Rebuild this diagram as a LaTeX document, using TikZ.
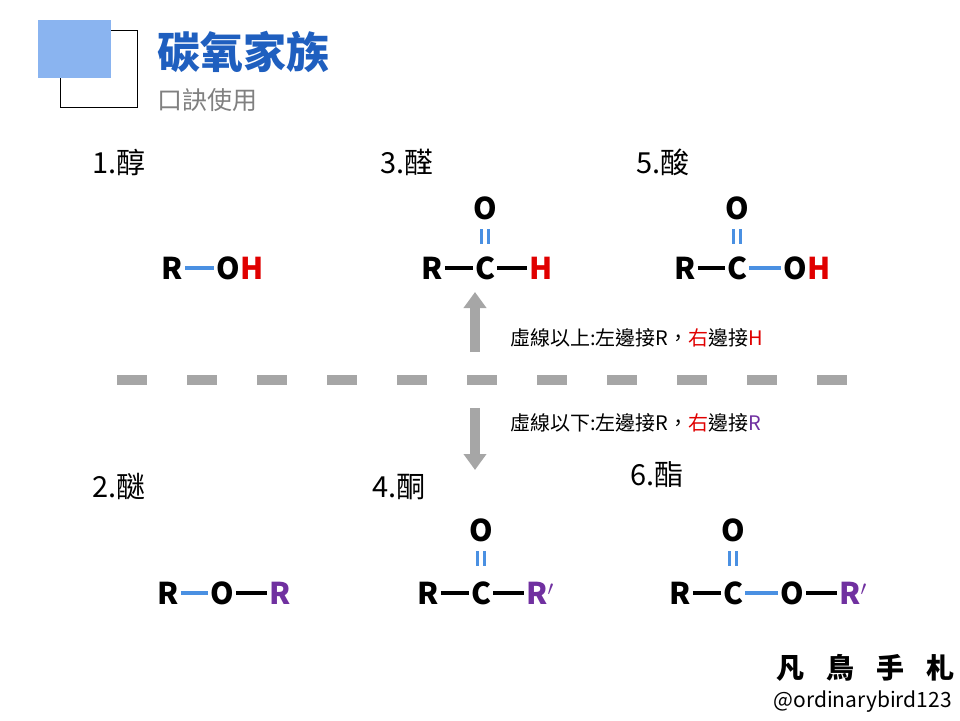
\documentclass[tikz,border=0pt]{standalone}
\usepackage{fontspec}
\setmainfont{Noto Sans CJK TC}
\usetikzlibrary{arrows.meta, calc}
\definecolor{bondblue}{HTML}{4A90E2}
\definecolor{titleblue}{HTML}{1F5FBF}
\definecolor{boxblue}{HTML}{8AB4F0}
\definecolor{rpurple}{HTML}{7030A0}
\definecolor{hred}{HTML}{E00000}
\tikzset{
  atom/.style={inner sep=0pt, font=\fontsize{30}{30}\selectfont\bfseries},
  label/.style={anchor=west, inner sep=0pt, font=\fontsize{29}{29}\selectfont},
  note/.style={anchor=west, inner sep=0pt, font=\fontsize{20}{20}\selectfont},
  bond/.style={line width=3.5pt, shorten <=2pt, shorten >=2pt},
  dbond/.style={bondblue, line width=2.5pt},
  bigarrow/.style={gray!70, line width=10pt, -{Triangle[width=22pt,length=16pt]}}
}
\newcommand{\dbl}[1]{% short double bond under the O
  \draw[dbond] ($(#1)+(-3.5,21)$) -- ($(#1)+(-3.5,36)$);
  \draw[dbond] ($(#1)+(3.5,21)$) -- ($(#1)+(3.5,36)$);}
\begin{document}
\begin{tikzpicture}[x=1pt,y=-1pt]
  \useasboundingbox (0,0) rectangle (960,720);
  % Header
  \draw[line width=1pt] (60,30) rectangle (137,107);
  \fill[boxblue] (38,20) rectangle (111,78);
  \node[anchor=west, inner sep=0pt, text=titleblue, font=\fontsize{43}{43}\selectfont\bfseries] (title) at (157,52) {碳氧家族};
  \node[anchor=west, inner sep=0pt, text=gray, font=\fontsize{25}{25}\selectfont] (subtitle) at (157,100) {口訣使用};

  % 1. alcohol
  \node[label] (l1) at (92,162) {1.醇};
  \node[atom] (r1) at (172,268) {R};
  \node[atom] (o1) at (228,268) {O};
  \node[atom, text=hred, anchor=west] (h1) at (o1.east) {H};
  \draw[bond, bondblue] (r1.east) -- (o1.west);

  % 3. aldehyde
  \node[label] (l3) at (380,162) {3.醛};
  \node[atom] (r3) at (432,268) {R};
  \node[atom] (c3) at (485,268) {C};
  \node[atom, text=hred] (h3) at (541,268) {H};
  \node[atom] (o3) at (485,208) {O};
  \draw[bond] (r3.east) -- (c3.west);
  \draw[bond] (c3.east) -- (h3.west);
  \dbl{o3}

  % 5. acid
  \node[label] (l5) at (636,162) {5.酸};
  \node[atom] (r5) at (685,268) {R};
  \node[atom] (c5) at (737,268) {C};
  \node[atom] (o5b) at (795,268) {O};
  \node[atom, text=hred, anchor=west] (h5) at (o5b.east) {H};
  \node[atom] (o5) at (737,208) {O};
  \draw[bond] (r5.east) -- (c5.west);
  \draw[bond, bondblue] (c5.east) -- (o5b.west);
  \dbl{o5}

  % Divider and arrows
  \draw[gray!70, line width=10pt, dash pattern=on 30pt off 40pt] (117,380) -- (858,380);
  \coordinate (up0) at (475,352);
  \coordinate (up1) at (475,292);
  \coordinate (dn0) at (475,408);
  \coordinate (dn1) at (475,470);
  \draw[bigarrow] (up0) -- (up1);
  \draw[bigarrow] (dn0) -- (dn1);
  \node[note] (above) at (510,338) {虛線以上:左邊接R，\textcolor{hred}{右}邊接\textcolor{hred}{H}};
  \node[note] (below) at (510,423) {虛線以下:左邊接R，\textcolor{hred}{右}邊接\textcolor{rpurple}{R}};

  % 2. ether
  \node[label] (l2) at (92,487) {2.醚};
  \node[atom] (r2) at (168,593) {R};
  \node[atom] (o2) at (222,593) {O};
  \node[atom, text=rpurple] (r2b) at (280,593) {R};
  \draw[bond, bondblue] (r2.east) -- (o2.west);
  \draw[bond] (o2.east) -- (r2b.west);

  % 4. ketone
  \node[label] (l4) at (372,487) {4.酮};
  \node[atom] (r4) at (428,593) {R};
  \node[atom] (c4) at (481,593) {C};
  \node[atom, text=rpurple] (r4b) at (540,593) {R$'$};
  \node[atom] (o4) at (481,530) {O};
  \draw[bond] (r4.east) -- (c4.west);
  \draw[bond] (c4.east) -- (r4b.west);
  \dbl{o4}

  % 6. ester
  \node[label] (l6) at (630,475) {6.酯};
  \node[atom] (r6) at (680,593) {R};
  \node[atom] (c6) at (733,593) {C};
  \node[atom] (o6b) at (792,593) {O};
  \node[atom, text=rpurple] (r6b) at (853,593) {R$'$};
  \node[atom] (o6) at (733,530) {O};
  \draw[bond] (r6.east) -- (c6.west);
  \draw[bond, bondblue] (c6.east) -- (o6b.west);
  \draw[bond] (o6b.east) -- (r6b.west);
  \dbl{o6}

  % Footer
  \node[anchor=east, inner sep=0pt, font=\fontsize{28}{28}\selectfont\bfseries] (brand) at (955,668) {凡\hspace{22pt}鳥\hspace{22pt}手\hspace{22pt}札};
  \node[anchor=east, inner sep=0pt, font=\fontsize{21}{21}\selectfont] (handle) at (952,702) {@ordinarybird123};
\end{tikzpicture}
\end{document}
